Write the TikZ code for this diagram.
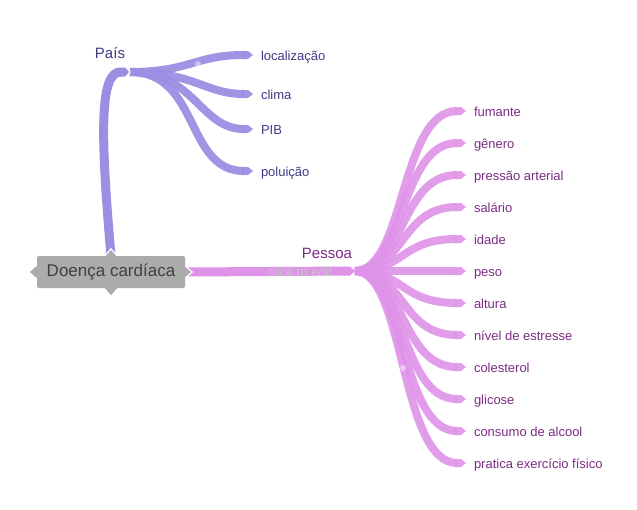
\documentclass[tikz,border=0pt]{standalone}
\usepackage{fontspec}
\setmainfont{Liberation Sans}
\usetikzlibrary{arrows.meta}
\definecolor{paiscolor}{HTML}{9B8FE3}
\definecolor{pessoacolor}{HTML}{DF93E8}
\definecolor{paistext}{HTML}{3F3B86}
\definecolor{pessoatext}{HTML}{7B2D82}
\definecolor{rootgray}{HTML}{ABABAB}
\tikzset{
  root/.style={fill=rootgray, rounded corners=2pt, minimum width=148pt, minimum height=32pt,
    text=black!75, font=\fontsize{17}{19}\selectfont},
  bump/.style={fill=rootgray},
  paistrunk/.style={draw=paiscolor, line width=9pt, -{Triangle Cap[length=5pt]}},
  paisline/.style={draw=paiscolor, line width=8pt, opacity=.95, -{Triangle Cap[length=5pt]}},
  pessoatrunk/.style={draw=pessoacolor, line width=9pt, -{Triangle Cap[length=5pt]}},
  pessoaline/.style={draw=pessoacolor, line width=8pt, opacity=.9, -{Triangle Cap[length=5pt]}},
  hublabel/.style={font=\fontsize{15}{17}\selectfont},
  leaf/.style={anchor=west, inner sep=0pt, outer sep=8pt, text height=13pt, text depth=2pt,
    font=\fontsize{13}{15}\selectfont},
  paisleaf/.style={leaf, text=paistext},
  pessoaleaf/.style={leaf, text=pessoatext},
  handle/.style={fill=white, opacity=.45},
  notch/.style={draw=white, line width=1.2pt}
}
\begin{document}
\begin{tikzpicture}[x=1pt, y=-1pt]
\useasboundingbox[fill=white] (0,0) rectangle (637,509);

% hubs and labels
\coordinate (pais-hub) at (130,72);
\coordinate (pessoa-hub) at (355,271);
\node[hublabel, text=paistext] (pais) at (110,53) {País};
\node[hublabel, text=pessoatext] (pessoa) at (327,253) {Pessoa};

% leaves of Pais
\node[paisleaf] (localizacao) at (253,55) {localização};
\node[paisleaf] (clima) at (253,94) {clima};
\node[paisleaf] (pib) at (253,129) {PIB};
\node[paisleaf] (poluicao) at (253,171) {poluição};

% leaves of Pessoa
\node[pessoaleaf] (fumante) at (466,111) {fumante};
\node[pessoaleaf] (genero) at (466,143) {gênero};
\node[pessoaleaf] (pressao) at (466,175) {pressão arterial};
\node[pessoaleaf] (salario) at (466,207) {salário};
\node[pessoaleaf] (idade) at (466,239) {idade};
\node[pessoaleaf] (peso) at (466,271) {peso};
\node[pessoaleaf] (altura) at (466,303) {altura};
\node[pessoaleaf] (estresse) at (466,335) {nível de estresse};
\node[pessoaleaf] (colesterol) at (466,367) {colesterol};
\node[pessoaleaf] (glicose) at (466,399) {glicose};
\node[pessoaleaf] (alcool) at (466,431) {consumo de alcool};
\node[pessoaleaf] (exercicio) at (466,463) {pratica exercício físico};

% central topic
\coordinate (root-top) at (111,256);
\coordinate (root-right) at (185,272);

% branches of Pais
\draw[paisline] (pais-hub) .. controls (190,72) and (195,55) .. (localizacao.west);
\draw[paisline] (pais-hub) .. controls (195,72) and (205,94) .. (clima.west);
\draw[paisline] (pais-hub) .. controls (195,72) and (200,129) .. (pib.west);
\draw[paisline] (pais-hub) .. controls (200,72) and (185,171) .. (poluicao.west);
\draw[paistrunk] (root-top) .. controls (100,130) and (100,72) .. (pais-hub);
\draw[notch] ([shift={(-4,-5)}]pais-hub) -- (pais-hub) -- ([shift={(-4,5)}]pais-hub);

% branches of Pessoa
\draw[pessoatrunk] (root-right) -- (pessoa-hub);
\draw[pessoaline] (pessoa-hub) .. controls (405,271) and (400,111) .. (fumante.west);
\draw[pessoaline] (pessoa-hub) .. controls (405,271) and (400,143) .. (genero.west);
\draw[pessoaline] (pessoa-hub) .. controls (405,271) and (400,175) .. (pressao.west);
\draw[pessoaline] (pessoa-hub) .. controls (405,271) and (400,207) .. (salario.west);
\draw[pessoaline] (pessoa-hub) .. controls (405,271) and (400,239) .. (idade.west);
\draw[pessoaline] (pessoa-hub) -- (peso.west);
\draw[pessoaline] (pessoa-hub) .. controls (405,271) and (400,303) .. (altura.west);
\draw[pessoaline] (pessoa-hub) .. controls (405,271) and (400,335) .. (estresse.west);
\draw[pessoaline] (pessoa-hub) .. controls (405,271) and (400,367) .. (colesterol.west);
\draw[pessoaline] (pessoa-hub) .. controls (405,271) and (400,399) .. (glicose.west);
\draw[pessoaline] (pessoa-hub) .. controls (405,271) and (400,431) .. (alcool.west);
\draw[pessoaline] (pessoa-hub) .. controls (405,271) and (400,463) .. (exercicio.west);
\node[text=gray!45, font=\fontsize{13}{15}\selectfont] (hint) at (300,272) {click to edit};

% handles
\fill[handle] (198,64) circle (3pt);
\fill[handle] (403,368) circle (3pt);

% central node with its four bumps
\node[root] (doenca) at (111,272) {Doença cardíaca};
\fill[bump] ([xshift=-6pt]doenca.north) -- ([yshift=7pt]doenca.north) -- ([xshift=6pt]doenca.north) -- cycle;
\draw[notch] ([xshift=-6pt]doenca.north) -- ([yshift=7pt]doenca.north) -- ([xshift=6pt]doenca.north);
\fill[bump] ([xshift=-6pt]doenca.south) -- ([yshift=-7pt]doenca.south) -- ([xshift=6pt]doenca.south) -- cycle;
\fill[bump] ([yshift=6pt]doenca.east) -- ([xshift=7pt]doenca.east) -- ([yshift=-6pt]doenca.east) -- cycle;
\draw[notch] ([yshift=6pt]doenca.east) -- ([xshift=7pt]doenca.east) -- ([yshift=-6pt]doenca.east);
\fill[bump] ([yshift=6pt]doenca.west) -- ([xshift=-7pt]doenca.west) -- ([yshift=-6pt]doenca.west) -- cycle;
\end{tikzpicture}
\end{document}
